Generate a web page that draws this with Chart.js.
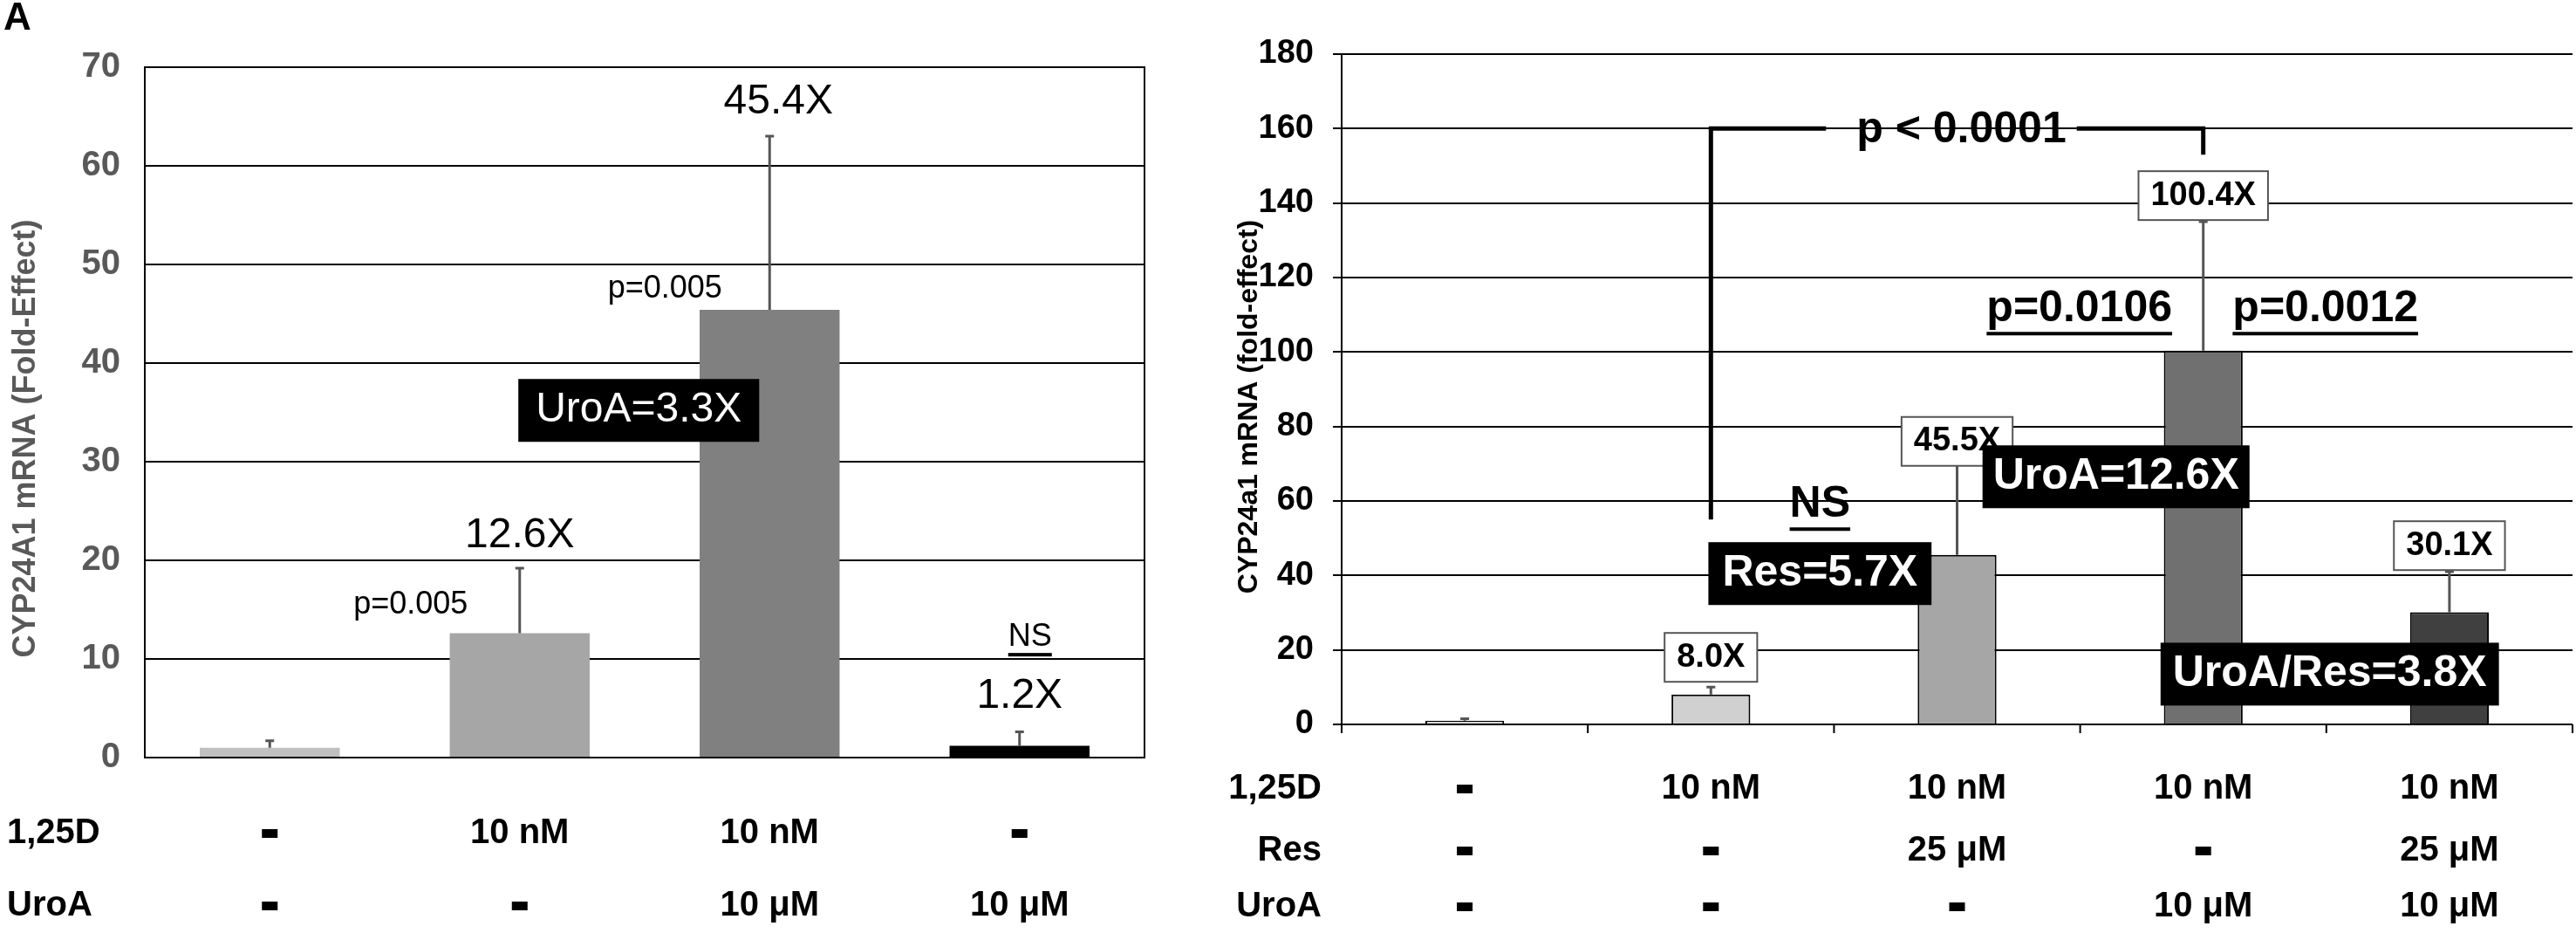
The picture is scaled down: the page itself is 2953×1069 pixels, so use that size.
<!DOCTYPE html>
<html><head><meta charset="utf-8">
<script src="https://cdn.jsdelivr.net/npm/chart.js@4"></script>
<style>body{margin:0;background:#fff;width:2953px;height:1069px;position:relative;overflow:hidden}
canvas{position:absolute;top:0}</style></head>
<body>
<canvas id="a" style="left:0" width="1400" height="1069"></canvas>
<canvas id="b" style="left:1400px" width="1553" height="1069"></canvas>
<script>
const catsA = ['c1','c2','c3','c4'];
const valsA = [1.0, 12.6, 45.4, 1.2];
const errTopA = [1.7, 19.2, 63.0, 2.6];
const colorsA = ['#c0c0c0','#a6a6a6','#808080','#000000'];
const rowD_A = ['-','10 nM','10 nM','-'];
const rowU_A = ['-','-','10 μM','10 μM'];
const ticksA = [0,10,20,30,40,50,60,70];

const catsB = ['c1','c2','c3','c4','c5'];
const valsB = [1.0, 8.0, 45.5, 100.4, 30.1];
const errTopB = [1.5, 10.0, 77.0, 135.0, 41.0];
const colorsB = ['#d9d9d9','#d0d0d0','#a6a6a6','#707070','#404040'];
const labelsB = ['', '8.0X', '45.5X', '100.4X', '30.1X'];
const rowD_B = ['-','10 nM','10 nM','10 nM','10 nM'];
const rowR_B = ['-','-','25 μM','-','25 μM'];
const rowU_B = ['-','-','-','10 μM','10 μM'];
const ticksB = [0,20,40,60,80,100,120,140,160,180];

const NF = '"Liberation Sans Narrow","Arial Narrow","Liberation Sans",Arial,sans-serif';
const BF = 'bold 38px "Liberation Sans","Arial",sans-serif';

function txt(ctx,s,x,y,font,color,align){ctx.save();ctx.font=font;ctx.fillStyle=color||'#000';ctx.textAlign=align||'center';ctx.textBaseline='middle';ctx.fillText(s,x,y);ctx.restore();}
function dash(ctx,x,y){ctx.fillStyle='#000';ctx.fillRect(x-9,y-5,18,10);}
function rowText(ctx,s,x,y,font){ if(s==='-') dash(ctx,x,y); else txt(ctx,s,x,y,font); }
function boxText(ctx,s,x,y,font,fill,color,padX,h){ctx.save();ctx.font=font;const w=ctx.measureText(s).width+2*padX;
 ctx.fillStyle=fill;ctx.fillRect(x-w/2,y-h/2,w,h);if(fill==='#fff'){ctx.strokeStyle='#555';ctx.lineWidth=2;ctx.strokeRect(x-w/2,y-h/2,w,h);}
 ctx.restore();txt(ctx,s,x,y,font,color);}
function underline(ctx,s,x,y,font,off){ctx.save();ctx.font=font;const w=ctx.measureText(s).width;ctx.fillStyle='#000';ctx.fillRect(x-w/2,y+off,w,4);ctx.restore();txt(ctx,s,x,y,font);}
function errBars(chart,tops,vals){const ctx=chart.ctx,x=chart.scales.x,y=chart.scales.y;ctx.save();ctx.strokeStyle='#555';ctx.lineWidth=3;
 tops.forEach((t,i)=>{const px=x.getPixelForValue(i);ctx.beginPath();ctx.moveTo(px,y.getPixelForValue(vals[i]));ctx.lineTo(px,y.getPixelForValue(t));ctx.moveTo(px-5,y.getPixelForValue(t));ctx.lineTo(px+5,y.getPixelForValue(t));ctx.stroke();});ctx.restore();}

const plugA={id:'pa',afterDatasetsDraw(chart){
 const ctx=chart.ctx,x=chart.scales.x,y=chart.scales.y,a=chart.chartArea;
 ctx.save();ctx.strokeStyle='#000';ctx.lineWidth=2;ctx.strokeRect(a.left,a.top,a.right-a.left,a.bottom-a.top);ctx.restore();
 errBars(chart,errTopA,valsA);
 const F='48px '+NF, F2='36px '+NF;
 txt(ctx,'45.4X',x.getPixelForValue(2)+10,y.getPixelForValue(66.5),F);
 txt(ctx,'12.6X',x.getPixelForValue(1),y.getPixelForValue(22.5),F);
 txt(ctx,'1.2X',x.getPixelForValue(3),y.getPixelForValue(6.2),F);
 txt(ctx,'p=0.005',x.getPixelForValue(1)-125,y.getPixelForValue(15.5),F2);
 txt(ctx,'p=0.005',x.getPixelForValue(2)-120,y.getPixelForValue(47.5),F2);
 underline(ctx,'NS',x.getPixelForValue(3)+12,y.getPixelForValue(12.2),'36px '+NF,18);
 boxText(ctx,'UroA=3.3X',x.getPixelForValue(2)-150,y.getPixelForValue(35.2),F,'#000','#fff',20,72);
 txt(ctx,'A',20,22,'bold 44px "Liberation Sans",Arial','#000');
 ctx.save();ctx.translate(30,(a.top+a.bottom)/2+30);ctx.rotate(-Math.PI/2);txt(ctx,'CYP24A1 mRNA (Fold-Effect)',0,0,'bold 36px "Liberation Sans",Arial','#595959');ctx.restore();
 const RF='bold 40px '+NF;
 txt(ctx,'1,25D',8,955,RF,'#000','left');txt(ctx,'UroA',8,1038,RF,'#000','left');
 catsA.forEach((c,i)=>{const px=x.getPixelForValue(i);rowText(ctx,rowD_A[i],px,955,RF);rowText(ctx,rowU_A[i],px,1038,RF);});
}};
new Chart(document.getElementById('a'),{type:'bar',data:{labels:catsA,datasets:[{data:valsA,backgroundColor:colorsA,barPercentage:0.56,categoryPercentage:1}]},
 options:{responsive:false,animation:false,plugins:{legend:{display:false},tooltip:{enabled:false}},
 layout:{padding:{left:0,right:88,top:77,bottom:201}},
 scales:{x:{display:false},y:{min:0,max:70,afterFit(s){s.width=166;},afterBuildTicks(s){s.ticks=ticksA.map(v=>({value:v}));},
  ticks:{font:{family:'"Liberation Sans Narrow","Liberation Sans",Arial',size:40,weight:'bold'},color:'#595959',padding:28},
  grid:{color:'#000',lineWidth:2,drawTicks:false},border:{color:'#000',width:2}}}},plugins:[plugA]});

const plugB={id:'pb',afterDatasetsDraw(chart){
 const ctx=chart.ctx,x=chart.scales.x,y=chart.scales.y,a=chart.chartArea;
 errBars(chart,errTopB,valsB);
 ctx.save();ctx.strokeStyle='#000';ctx.lineWidth=2;ctx.beginPath();
 for(let i=0;i<=5;i++){const px=a.left+(a.right-a.left)*i/5;ctx.moveTo(px,a.bottom);ctx.lineTo(px,a.bottom+10);}ctx.stroke();ctx.restore();
 const LF='bold 38px '+NF, BIG='bold 50px '+NF;
 labelsB.forEach((s,i)=>{if(!s)return;const off={1:18,2:76,3:142,4:48}[i];boxText(ctx,s,x.getPixelForValue(i),y.getPixelForValue(off),LF,'#fff','#000',14,56);});
 // bracket
 const x1=x.getPixelForValue(1),x3=x.getPixelForValue(3),yT=y.getPixelForValue(160);
 ctx.save();ctx.strokeStyle='#000';ctx.lineWidth=5;ctx.beginPath();
 ctx.moveTo(x1,y.getPixelForValue(55));ctx.lineTo(x1,yT);ctx.lineTo(x1+132,yT);
 ctx.moveTo(x3-145,yT);ctx.lineTo(x3,yT);ctx.lineTo(x3,y.getPixelForValue(153));ctx.stroke();ctx.restore();
 txt(ctx,'p < 0.0001',(x1+x3)/2+5,y.getPixelForValue(159.5),BIG);
 underline(ctx,'NS',x1+125,y.getPixelForValue(59),BIG,26);
 underline(ctx,'p=0.0106',x3-142,y.getPixelForValue(111.5),BIG,26);
 underline(ctx,'p=0.0012',x3+140,y.getPixelForValue(111.5),BIG,26);
 boxText(ctx,'Res=5.7X',x1+125,y.getPixelForValue(40.5),BIG,'#000','#fff',16,72);
 boxText(ctx,'UroA=12.6X',x3-100,y.getPixelForValue(66.5),BIG,'#000','#fff',12,72);
 boxText(ctx,'UroA/Res=3.8X',x3+145,y.getPixelForValue(13.5),BIG,'#000','#fff',14,72);
 txt(ctx,'B',-16,22,'bold 44px "Liberation Sans",Arial','#000');
 ctx.save();ctx.translate(32,(a.top+a.bottom)/2+20);ctx.rotate(-Math.PI/2);txt(ctx,'CYP24a1 mRNA (fold-effect)',0,0,'bold 32px "Liberation Sans",Arial','#000');ctx.restore();
 const RF='bold 40px '+NF;
 txt(ctx,'1,25D',115,904,RF,'#000','right');txt(ctx,'Res',115,975,RF,'#000','right');txt(ctx,'UroA',115,1039,RF,'#000','right');
 catsB.forEach((c,i)=>{const px=x.getPixelForValue(i)+(i?0:0);rowText(ctx,rowD_B[i],px,904,RF);rowText(ctx,rowR_B[i],px,975,RF);rowText(ctx,rowU_B[i],px,1039,RF);});
}};
new Chart(document.getElementById('b'),{type:'bar',data:{labels:catsB,datasets:[{data:valsB,backgroundColor:colorsB,borderColor:'#000',borderWidth:2,barPercentage:0.32,categoryPercentage:1}]},
 options:{responsive:false,animation:false,plugins:{legend:{display:false},tooltip:{enabled:false}},
 layout:{padding:{left:0,right:4,top:62,bottom:239}},
 scales:{x:{display:false},y:{min:0,max:180,afterFit(s){s.width=138;},afterBuildTicks(s){s.ticks=ticksB.map(v=>({value:v}));},
  ticks:{font:{family:'"Liberation Sans Narrow","Liberation Sans",Arial',size:38,weight:'bold'},color:'#000',padding:22},
  grid:{color:'#000',lineWidth:2,drawTicks:true,tickLength:10},border:{color:'#000',width:2}}}},plugins:[plugB]});
</script></body></html>
